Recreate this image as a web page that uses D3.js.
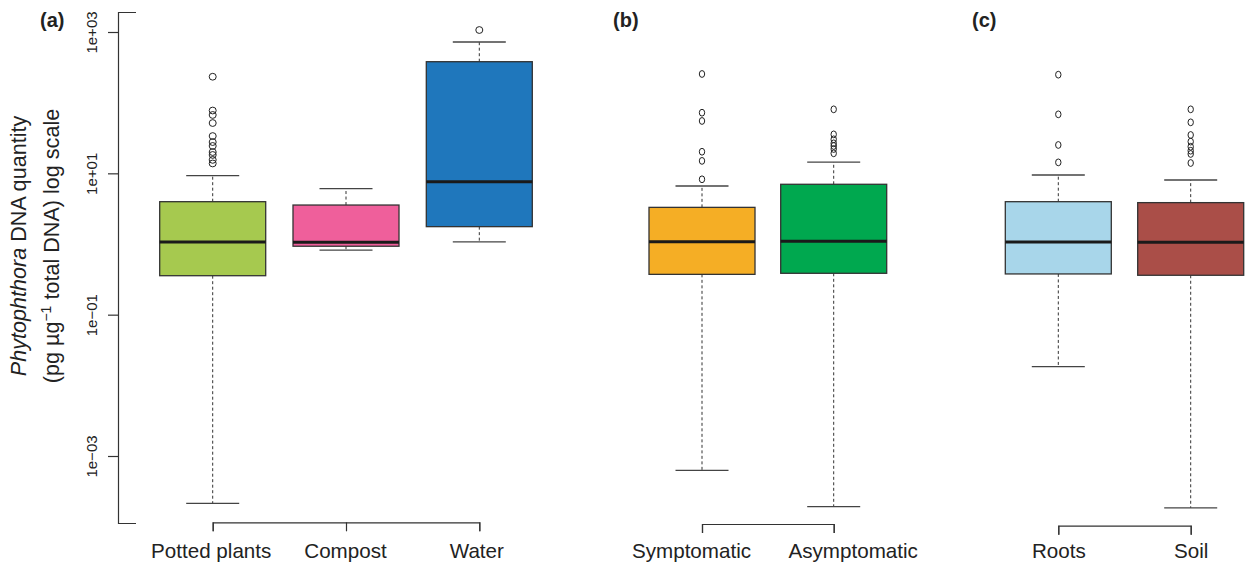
<!DOCTYPE html>
<html>
<head>
<meta charset="utf-8">
<script src="https://cdn.jsdelivr.net/npm/d3@7"></script>
<style>
body { margin: 0; background: #fff; }
svg { font-family: "Liberation Sans", Arial, Helvetica, sans-serif; }
</style>
</head>
<body>
<div id="chart"></div>
<script>
const width = 1245;
const height = 566;

// pg per ug total DNA
const categories = ["Potted plants", "Compost", "Water", "Symptomatic", "Asymptomatic", "Roots", "Soil"];
const panelOf = ["a", "a", "a", "b", "b", "c", "c"];
const whiskerLow = [0.000214, 0.82, 1.07, 0.000628, 0.000192, 0.0184, 0.000184];
const quartile1 = [0.356, 0.93, 1.76, 0.372, 0.385, 0.377, 0.361];
const medians = [1.07, 1.06, 7.62, 1.08, 1.09, 1.07, 1.06];
const quartile3 = [3.97, 3.56, 380, 3.30, 7.0, 3.97, 3.85];
const whiskerHigh = [9.27, 6.07, 722, 6.62, 14.45, 9.48, 8.05];
const outliers = [
    [232.8, 77.4, 67.0, 51.5, 33.7, 27.7, 24.4, 20.0, 18.2, 15.5, 13.8],
    [],
    [1067],
    [254.7, 72.1, 55.1, 20.2, 15.0, 8.24],
    [80.5, 35.6, 30.3, 26.6, 24.4, 22.1, 19.2],
    [248.9, 68.4, 25.2, 14.3],
    [80.5, 52.7, 34.9, 28.1, 23.8, 20.9, 18.8, 14.0]
];
const boxColors = ["#a6c94f", "#ef5f9b", "#1f77bc", "#f5ae25", "#00a84f", "#a8d6ea", "#aa4e48"];
const yTickValues = [1e-3, 1e-1, 1e1, 1e3];
const yTickLabels = ["1e\u221203", "1e\u221201", "1e+01", "1e+03"];

// panel layout (labelShift nudges the category names like in the original)
const panels = [
    { id: "a", label: "(a)", labelX: 40, range: [212.7, 479.3], axisY: 522.3, rx: 3.5, labelShift: [-2, -1, -3] },
    { id: "b", label: "(b)", labelX: 613, range: [702, 833.7], axisY: 524, rx: 2.7, labelShift: [-11, 19] },
    { id: "c", label: "(c)", labelX: 972, range: [1058.3, 1190.7], axisY: 525.7, rx: 2.7, labelShift: [0, 0] }
];

const boxWidth = 106;
const capHalf = 26.5;
const labelTop = 543.3;

const svg = d3.select("#chart")
    .append("svg")
    .attr("width", width)
    .attr("height", height);

const y = d3.scaleLog()
    .domain([1.127e-4, 1919])
    .range([523, 12]);

// y axis
const yAxis = d3.axisLeft(y)
    .tickValues(yTickValues)
    .tickFormat((d, i) => yTickLabels[i])
    .tickSizeInner(10)
    .tickSizeOuter(-18);

const yg = svg.append("g")
    .attr("transform", "translate(118,0)")
    .call(yAxis);
yg.selectAll("path, line").attr("stroke", "#333").attr("stroke-width", 1.2);
yg.selectAll("text")
    .attr("x", 0)
    .attr("y", -21.5)
    .attr("dy", 0)
    .attr("transform", "rotate(-90)")
    .attr("text-anchor", "middle")
    .attr("font-size", 15)
    .attr("font-family", null)
    .attr("fill", "#222");

// y axis title
const title = svg.append("g")
    .attr("transform", "translate(0,246) rotate(-90)");
const t1 = title.append("text")
    .attr("y", 26)
    .attr("text-anchor", "middle")
    .attr("font-size", 21.6)
    .attr("fill", "#222");
t1.append("tspan").attr("font-style", "italic").text("Phytophthora");
t1.append("tspan").text(" DNA quantity");
const t2 = title.append("text")
    .attr("y", 59)
    .attr("text-anchor", "middle")
    .attr("font-size", 21.6)
    .attr("fill", "#222");
t2.append("tspan").text("(pg \u00b5g");
t2.append("tspan").attr("font-size", 14).attr("dy", -8).text("\u22121");
t2.append("tspan").attr("dy", 8).text(" total DNA) log scale");

panels.forEach(p => {
    const idx = d3.range(categories.length).filter(i => panelOf[i] === p.id);
    const cats = idx.map(i => categories[i]);

    const x = d3.scalePoint()
        .domain(cats)
        .range(p.range);

    // panel letter
    svg.append("text")
        .attr("x", p.labelX)
        .attr("y", 27)
        .attr("font-size", 20)
        .attr("font-weight", "bold")
        .attr("fill", "#222")
        .text(p.label);

    // bracket style x axis, labels kept on one common line
    const xg = svg.append("g")
        .attr("transform", `translate(0,${p.axisY})`)
        .call(d3.axisBottom(x).tickSizeInner(9).tickSizeOuter(9).tickPadding(labelTop - p.axisY - 9));
    xg.selectAll("path, line").attr("stroke", "#333").attr("stroke-width", 1.2);
    xg.selectAll("text")
        .attr("font-size", 20.6)
        .attr("font-family", null)
        .attr("fill", "#222")
        .attr("dx", (d, i) => p.labelShift[i]);

    const g = svg.append("g");

    idx.forEach(i => {
        const cx = x(categories[i]);

        // dashed whiskers
        g.append("line")
            .attr("x1", cx).attr("x2", cx)
            .attr("y1", y(quartile3[i])).attr("y2", y(whiskerHigh[i]))
            .attr("stroke", "#333").attr("stroke-width", 1)
            .attr("stroke-dasharray", "3,2.5");
        g.append("line")
            .attr("x1", cx).attr("x2", cx)
            .attr("y1", y(quartile1[i])).attr("y2", y(whiskerLow[i]))
            .attr("stroke", "#333").attr("stroke-width", 1)
            .attr("stroke-dasharray", "3,2.5");

        // caps
        [whiskerHigh[i], whiskerLow[i]].forEach(v => {
            g.append("line")
                .attr("x1", cx - capHalf).attr("x2", cx + capHalf)
                .attr("y1", y(v)).attr("y2", y(v))
                .attr("stroke", "#444").attr("stroke-width", 1.3);
        });

        // box
        g.append("rect")
            .attr("x", cx - boxWidth / 2)
            .attr("width", boxWidth)
            .attr("y", y(quartile3[i]))
            .attr("height", y(quartile1[i]) - y(quartile3[i]))
            .attr("fill", boxColors[i])
            .attr("stroke", "#333")
            .attr("stroke-width", 1.3);

        // median
        g.append("line")
            .attr("x1", cx - boxWidth / 2).attr("x2", cx + boxWidth / 2)
            .attr("y1", y(medians[i])).attr("y2", y(medians[i]))
            .attr("stroke", "#1a1a1a").attr("stroke-width", 3);

        // outliers
        g.selectAll(null)
            .data(outliers[i])
            .enter().append("ellipse")
            .attr("cx", cx)
            .attr("cy", d => y(d))
            .attr("rx", p.rx)
            .attr("ry", 3.4)
            .attr("fill", "none")
            .attr("stroke", "#222")
            .attr("stroke-width", 1);
    });
});
</script>
</body>
</html>
